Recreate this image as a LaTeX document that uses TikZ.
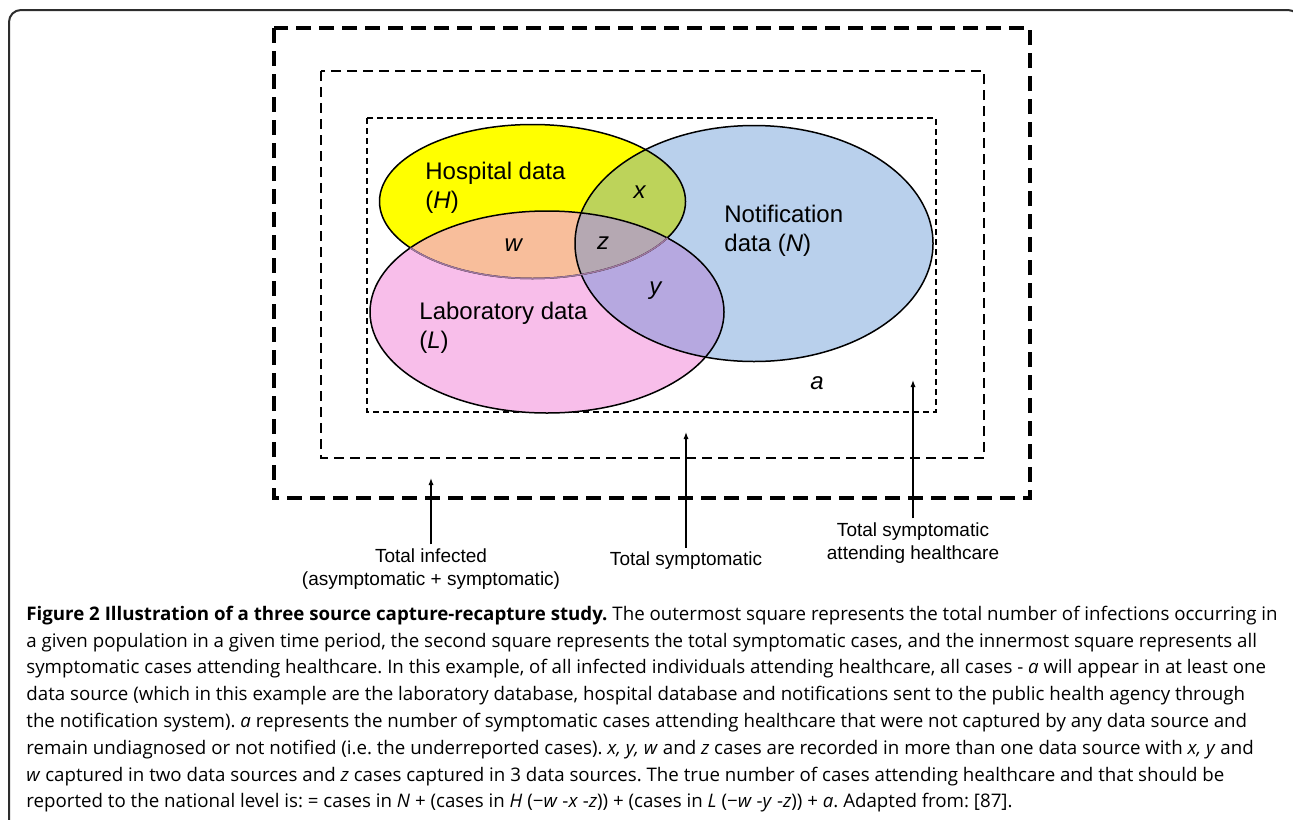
\documentclass[tikz,border=0pt]{standalone}
\usepackage{fontspec}
\setmainfont{Liberation Sans}
\newfontfamily\capfont{Open Sans}
\usepackage{amsmath}
\usepackage{xcolor}
\usetikzlibrary{arrows.meta}

\definecolor{hospcol}{RGB}{255,255,0}
\definecolor{labcol}{RGB}{248,190,234}
\definecolor{notifcol}{RGB}{185,208,236}
\definecolor{hncol}{RGB}{189,211,90}
\definecolor{hlcol}{RGB}{248,190,155}
\definecolor{lncol}{RGB}{182,168,224}
\definecolor{hlncol}{RGB}{181,168,178}
\definecolor{edgecol}{RGB}{160,120,160}
\definecolor{framecol}{RGB}{45,45,45}

\newcommand{\hospPath}{(532.5,201.5) ellipse [x radius=153, y radius=77]}
\newcommand{\labPath}{(547,312) ellipse [x radius=177, y radius=101]}
\newcommand{\notifPath}{(754,243.5) ellipse [x radius=179, y radius=118]}

\begin{document}
\begin{tikzpicture}[x=0.5pt, y=-0.5pt,
  venntext/.style={inner sep=0pt, align=left, font=\fontsize{12}{14.5}\selectfont},
  arrowtext/.style={inner sep=2pt, align=center, font=\fontsize{9.5}{11.5}\selectfont},
  pointer/.style={-{Latex[length=3.5pt, width=2.6pt]}, line width=0.65pt},
  vennline/.style={line width=0.75pt},
  outerdash/.style={line width=1.7pt, dash pattern=on 7.5pt off 4pt},
  middash/.style={line width=1.15pt, dash pattern=on 5pt off 3pt},
  innerdash/.style={line width=0.7pt, dash pattern=on 3pt off 2pt}]
\useasboundingbox (0,0) rectangle (1293,819);
\begin{scope}
\clip (0,0) rectangle (1293,819);
\draw[framecol, line width=1pt, rounded corners=6pt] (9,10) rectangle (1300,840);
\end{scope}

\draw[outerdash] (274,28) rectangle (1030,498);
\draw[middash] (321,71) rectangle (984,458);
\draw[innerdash] (367,118) rectangle (936,412);

\fill[hospcol] \hospPath;
\fill[labcol] \labPath;
\fill[notifcol] \notifPath;
\begin{scope}
\clip \labPath;
\fill[lncol] \notifPath;
\end{scope}
\begin{scope}
\clip \hospPath;
\fill[hncol] \notifPath;
\fill[hlcol] \labPath;
\clip \labPath;
\fill[hlncol] \notifPath;
\end{scope}

\draw[vennline] \hospPath;
\draw[vennline] \labPath;
\draw[vennline] \notifPath;
\begin{scope}
\clip \labPath;
\draw[vennline, edgecol] \hospPath;
\end{scope}

\node[venntext, anchor=west] (hosplabel) at (425,187.5) {Hospital data\\(\textit{H})};
\node[venntext, anchor=west] (lablabel) at (419,327.5) {Laboratory data\\(\textit{L})};
\node[venntext, anchor=west] (notiflabel) at (724,230.5) {Notification\\data (\textit{N})};
\node[venntext] (xlabel) at (640,192) {\textit{x}};
\node[venntext] (wlabel) at (514,245) {\textit{w}};
\node[venntext] (zlabel) at (603,243) {\textit{z}};
\node[venntext] (ylabel) at (656,291) {\textit{y}};
\node[venntext] (alabel) at (817,383) {\textit{a}};

\node[arrowtext] (infected) at (431,569) {Total infected\\(asymptomatic + symptomatic)};
\node[arrowtext] (symptomatic) at (686,561) {Total symptomatic};
\node[arrowtext] (attending) at (913,543) {Total symptomatic\\attending healthcare};
\coordinate (infectedtip) at (431,478);
\coordinate (symptomatictip) at (686,432);
\coordinate (attendingtip) at (913,380);
\draw[pointer] (infected) -- (infectedtip);
\draw[pointer] (symptomatic) -- (symptomatictip);
\draw[pointer] (attending) -- (attendingtip);

\node[anchor=north west, inner sep=0pt, align=left,
  font=\capfont\fontsize{9.35}{13.4}\selectfont\frenchspacing] (caption) at (26,605.5)
{\textbf{Figure 2 Illustration of a three source capture-recapture study.} The outermost square represents the total number of infections occurring in\\
a given population in a given time period, the second square represents the total symptomatic cases, and the innermost square represents all\\
symptomatic cases attending healthcare. In this example, of all infected individuals attending healthcare, all cases - \textit{a} will appear in at least one\\
data source (which in this example are the laboratory database, hospital database and notifications sent to the public health agency through\\
the notification system). \textit{a} represents the number of symptomatic cases attending healthcare that were not captured by any data source and\\
remain undiagnosed or not notified (i.e. the underreported cases). \textit{x, y, w} and \textit{z} cases are recorded in more than one data source with \textit{x, y} and\\
\textit{w} captured in two data sources and \textit{z} cases captured in 3 data sources. The true number of cases attending healthcare and that should be\\
reported to the national level is: = cases in \textit{N} + (cases in \textit{H} (−\textit{w} -\textit{x} -\textit{z})) + (cases in \textit{L} (−\textit{w} -\textit{y} -\textit{z})) + \textit{a}. Adapted from: [87].};
\end{tikzpicture}
\end{document}
